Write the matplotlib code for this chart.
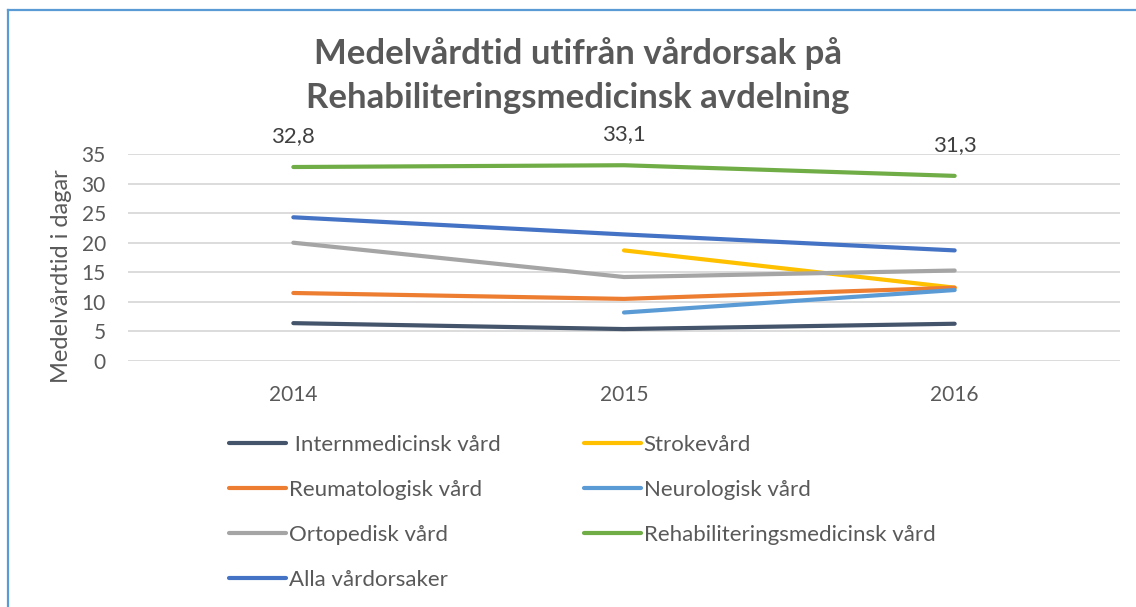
import matplotlib
matplotlib.use("Agg")
import matplotlib.pyplot as plt
from matplotlib.lines import Line2D

plt.rcParams['font.family'] = ['Lato', 'DejaVu Sans']

years = ['2014', '2015', '2016']
intern = [6.4, 5.4, 6.3]
stroke = [None, 18.7, 12.4]
reuma = [11.5, 10.5, 12.4]
neuro = [None, 8.2, 12.0]
orto = [20.0, 14.2, 15.3]
rehab = [32.8, 33.1, 31.3]
alla = [24.3, 21.4, 18.7]
rehab_labels = ['32,8', '33,1', '31,3']

names = [' Internmedicinsk vård', 'Strokevård', 'Reumatologisk vård', 'Neurologisk vård',
         'Ortopedisk vård', 'Rehabiliteringsmedicinsk vård', 'Alla vårdorsaker']
series = [intern, stroke, reuma, neuro, orto, rehab, alla]
colors = ['#44546A', '#FFC000', '#ED7D31', '#5B9BD5', '#A5A5A5', '#70AD47', '#4472C4']

W, H = 1136, 607
fig = plt.figure(figsize=(W / 100, H / 100), dpi=100)
ax = fig.add_axes([128 / W, 1 - 361 / H, (1120 - 128) / W, (361 - 154) / H])

x = list(range(len(years)))
handles = {}
for name, vals, c in zip(names, series, colors):
    xs = [xi for xi, v in zip(x, vals) if v is not None]
    ys = [v for v in vals if v is not None]
    ln, = ax.plot(xs, ys, color=c, lw=3.0, solid_capstyle='round', solid_joinstyle='round', zorder=3)
    handles[name] = ln

for xi, v, lab in zip(x, rehab, rehab_labels):
    ax.annotate(lab, (xi, v), xytext=(0, 18), textcoords='offset points', ha='center', va='baseline',
                fontsize=16, color='#404040')

ax.set_xlim(-0.5, len(years) - 0.5)
ax.set_ylim(0, 35)
ax.set_yticks(range(0, 36, 5))
ax.set_xticks(x)
ax.set_xticklabels(years)
ax.grid(axis='y', color='#D9D9D9', lw=1.3, zorder=0)
ax.set_axisbelow(True)
for s in ax.spines.values():
    s.set_visible(False)
ax.tick_params(axis='both', length=0, labelsize=15, colors='#595959')
ax.tick_params(axis='y', pad=16)
ax.tick_params(axis='x', pad=17)
ax.set_ylabel('Medelvårdtid i dagar', fontsize=17, color='#595959')
ax.yaxis.set_label_coords((72 - 128) / 992, (361 - 276) / 207)

title_kw = dict(ha='center', va='baseline', fontsize=25, fontweight='bold', color='#595959')
fig.text(578 / W, 1 - 64 / H, 'Medelvårdtid utifrån vårdorsak på', **title_kw)
fig.text(578 / W, 1 - 108 / H, 'Rehabiliteringsmedicinsk avdelning', **title_kw)

col1 = [' Internmedicinsk vård', 'Reumatologisk vård', 'Ortopedisk vård', 'Alla vårdorsaker']
col2 = ['Strokevård', 'Neurologisk vård', 'Rehabiliteringsmedicinsk vård']
common = dict(frameon=False, fontsize=16, labelcolor='#595959', handlelength=2.55,
              handletextpad=0.14, labelspacing=1.12, borderpad=0, borderaxespad=0)
lg1 = fig.legend([handles[n] for n in col1], col1, loc='upper left',
                 bbox_to_anchor=(229 / W, 1 - 435 / H), **common)
lg2 = fig.legend([handles[n] for n in col2], col2, loc='upper left',
                 bbox_to_anchor=(584 / W, 1 - 435 / H), **common)

border = '#5B9BD5'
fig.add_artist(Line2D([8 / W, 1], [1 - 10 / H, 1 - 10 / H], transform=fig.transFigure, color=border, lw=1.6))
fig.add_artist(Line2D([8 / W, 8 / W], [0, 1 - 10 / H], transform=fig.transFigure, color=border, lw=1.6))

fig.savefig('out.png', dpi=100)
